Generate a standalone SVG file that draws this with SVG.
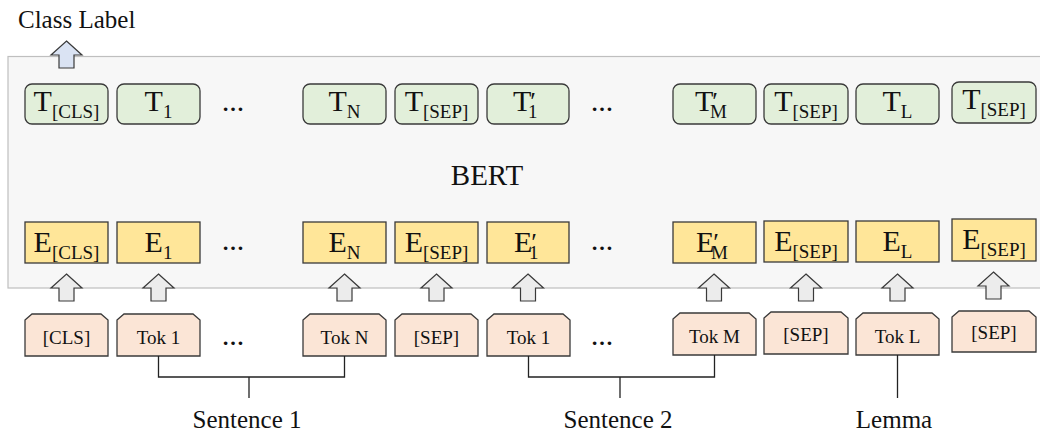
<svg xmlns="http://www.w3.org/2000/svg" width="1040" height="432" viewBox="0 0 1040 432">
<style>
.t{font-family:"Liberation Serif","Times New Roman",serif;fill:#111}
.big{font-size:30px}
.sub{font-size:19px}
.pr{font-size:26px}
.tok{font-size:19px}
.lab{font-size:25px}
.dots{font-size:22px;font-weight:bold}
.tbox{fill:#e2efda;stroke:#3a3a3a;stroke-width:1.3}
.ebox{fill:#ffe699;stroke:#3a3a3a;stroke-width:1.3}
.kbox{fill:#fbe5d6;stroke:#3a3a3a;stroke-width:1.3}
.arr{fill:#ececec;stroke:#3a3a3a;stroke-width:1.2}
.line{fill:none;stroke:#222;stroke-width:1.3}
</style>
<defs>
<path id="up" d="M0,0 L15.5,14 L7.5,14 L7.5,27 L-7.5,27 L-7.5,14 L-15.5,14 Z"/>
</defs>
<rect x="8" y="56.5" width="1040" height="231.5" fill="#f7f7f7" stroke="#bfbfbf" stroke-width="1.2"/>
<text class="t" x="487" y="185" font-size="29" text-anchor="middle">BERT</text>
<text class="t lab" x="18" y="28">Class Label</text>
<use href="#up" x="66.5" y="41" fill="#dae3f3" stroke="#3a3a3a" stroke-width="1.2"/>

<g id="t-row">
<g id="t-cls"><rect class="tbox" x="25" y="84" width="83" height="40" rx="7"/><text class="t big" x="66.5" y="111" text-anchor="middle">T<tspan class="sub" dy="7">[CLS]</tspan></text></g>
<g id="t-1"><rect class="tbox" x="117" y="84" width="83" height="40" rx="7"/><text class="t big" x="158.5" y="111" text-anchor="middle">T<tspan class="sub" dy="7">1</tspan></text></g>
<text class="t dots" x="233" y="111" text-anchor="middle">…</text>
<g id="t-n"><rect class="tbox" x="303" y="84" width="83" height="40" rx="7"/><text class="t big" x="344.5" y="111" text-anchor="middle">T<tspan class="sub" dy="7">N</tspan></text></g>
<g id="t-sep1"><rect class="tbox" x="395" y="84" width="83" height="40" rx="7"/><text class="t big" x="436.5" y="111" text-anchor="middle">T<tspan class="sub" dy="7">[SEP]</tspan></text></g>
<g id="t-1p"><rect class="tbox" x="487" y="84" width="82" height="40" rx="7"/><text class="t big" x="513" y="111">T<tspan class="pr" dx="-1" dy="-1">′</tspan><tspan class="sub" dx="-8" dy="8">1</tspan></text></g>
<text class="t dots" x="602" y="111" text-anchor="middle">…</text>
<g id="t-mp"><rect class="tbox" x="673" y="84" width="83" height="40" rx="7"/><text class="t big" x="695" y="111">T<tspan class="pr" dx="-1" dy="-1">′</tspan><tspan class="sub" dx="-8" dy="8">M</tspan></text></g>
<g id="t-sep2"><rect class="tbox" x="764" y="84" width="84" height="40" rx="7"/><text class="t big" x="806" y="111" text-anchor="middle">T<tspan class="sub" dy="7">[SEP]</tspan></text></g>
<g id="t-l"><rect class="tbox" x="856" y="84" width="83" height="40" rx="7"/><text class="t big" x="897.5" y="111" text-anchor="middle">T<tspan class="sub" dy="7">L</tspan></text></g>
<g id="t-sep3"><rect class="tbox" x="952" y="82" width="84" height="41" rx="7"/><text class="t big" x="994" y="109" text-anchor="middle">T<tspan class="sub" dy="7">[SEP]</tspan></text></g>
</g>

<g id="e-row">
<g id="e-cls"><rect class="ebox" x="25" y="222" width="83" height="41"/><text class="t big" x="66.5" y="252" text-anchor="middle">E<tspan class="sub" dy="7">[CLS]</tspan></text></g>
<g id="e-1"><rect class="ebox" x="117" y="222" width="83" height="41"/><text class="t big" x="158.5" y="252" text-anchor="middle">E<tspan class="sub" dy="7">1</tspan></text></g>
<text class="t dots" x="233" y="250" text-anchor="middle">…</text>
<g id="e-n"><rect class="ebox" x="303" y="222" width="83" height="41"/><text class="t big" x="344.5" y="252" text-anchor="middle">E<tspan class="sub" dy="7">N</tspan></text></g>
<g id="e-sep1"><rect class="ebox" x="395" y="222" width="83" height="41"/><text class="t big" x="436.5" y="252" text-anchor="middle">E<tspan class="sub" dy="7">[SEP]</tspan></text></g>
<g id="e-1p"><rect class="ebox" x="487" y="222" width="82" height="41"/><text class="t big" x="514" y="252">E<tspan class="pr" dx="-1" dy="-1">′</tspan><tspan class="sub" dx="-8" dy="8">1</tspan></text></g>
<text class="t dots" x="602" y="250" text-anchor="middle">…</text>
<g id="e-mp"><rect class="ebox" x="673" y="222" width="83" height="41"/><text class="t big" x="696" y="252">E<tspan class="pr" dx="-1" dy="-1">′</tspan><tspan class="sub" dx="-8" dy="8">M</tspan></text></g>
<g id="e-sep2"><rect class="ebox" x="764" y="221" width="84" height="41"/><text class="t big" x="806" y="251" text-anchor="middle">E<tspan class="sub" dy="7">[SEP]</tspan></text></g>
<g id="e-l"><rect class="ebox" x="856" y="221" width="83" height="41"/><text class="t big" x="897.5" y="251" text-anchor="middle">E<tspan class="sub" dy="7">L</tspan></text></g>
<g id="e-sep3"><rect class="ebox" x="952" y="219" width="84" height="42"/><text class="t big" x="994" y="249" text-anchor="middle">E<tspan class="sub" dy="7">[SEP]</tspan></text></g>
</g>

<g id="arrows">
<use href="#up" class="arr" x="66.5" y="274"/>
<use href="#up" class="arr" x="158.5" y="274"/>
<use href="#up" class="arr" x="344.5" y="274"/>
<use href="#up" class="arr" x="436.5" y="274"/>
<use href="#up" class="arr" x="528" y="274"/>
<use href="#up" class="arr" x="714" y="274"/>
<use href="#up" class="arr" x="806" y="274"/>
<use href="#up" class="arr" x="897.5" y="274"/>
<use href="#up" class="arr" x="993.5" y="272"/>
</g>

<g id="tok-row">
<g id="k-cls"><path class="kbox" d="M25,320 L32,314 L101,314 L108,320 L108,356 L25,356 Z"/><text class="t tok" x="66.5" y="344" text-anchor="middle">[CLS]</text></g>
<g id="k-1"><path class="kbox" d="M117,320 L124,314 L193,314 L200,320 L200,356 L117,356 Z"/><text class="t tok" x="158.5" y="344" text-anchor="middle">Tok 1</text></g>
<text class="t dots" x="233" y="345" text-anchor="middle">…</text>
<g id="k-n"><path class="kbox" d="M303,320 L310,314 L379,314 L386,320 L386,356 L303,356 Z"/><text class="t tok" x="344.5" y="344" text-anchor="middle">Tok N</text></g>
<g id="k-sep1"><path class="kbox" d="M395,320 L402,314 L471,314 L478,320 L478,356 L395,356 Z"/><text class="t tok" x="436.5" y="344" text-anchor="middle">[SEP]</text></g>
<g id="k-1b"><path class="kbox" d="M487,320 L494,314 L563,314 L570,320 L570,356 L487,356 Z"/><text class="t tok" x="528.5" y="344" text-anchor="middle">Tok 1</text></g>
<text class="t dots" x="602" y="345" text-anchor="middle">…</text>
<g id="k-m"><path class="kbox" d="M673,319 L680,313 L749,313 L756,319 L756,355 L673,355 Z"/><text class="t tok" x="714.5" y="343" text-anchor="middle">Tok M</text></g>
<g id="k-sep2"><path class="kbox" d="M764,318 L771,312 L841,312 L848,318 L848,354 L764,354 Z"/><text class="t tok" x="806" y="341" text-anchor="middle">[SEP]</text></g>
<g id="k-l"><path class="kbox" d="M856,319 L863,313 L932,313 L939,319 L939,355 L856,355 Z"/><text class="t tok" x="897.5" y="343" text-anchor="middle">Tok L</text></g>
<g id="k-sep3"><path class="kbox" d="M952,317 L959,311 L1029,311 L1036,317 L1036,352 L952,352 Z"/><text class="t tok" x="994" y="339" text-anchor="middle">[SEP]</text></g>
</g>

<g id="connectors">
<path class="line" d="M158.5,356 V377 H344.5 V356 M249,377 V398"/>
<path class="line" d="M528.5,356 V377 H714.5 V355 M620,377 V398"/>
<path class="line" d="M897.5,355 V398"/>
</g>

<text class="t lab" x="247" y="428" text-anchor="middle">Sentence 1</text>
<text class="t lab" x="618" y="428" text-anchor="middle">Sentence 2</text>
<text class="t lab" x="894" y="428" text-anchor="middle">Lemma</text>
</svg>
